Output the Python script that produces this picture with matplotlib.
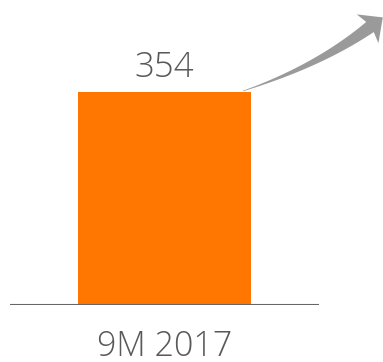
import numpy as np
import matplotlib
matplotlib.use("Agg")
import matplotlib.pyplot as plt
from matplotlib.patches import Polygon

categories = ["9M 2017"]
values = [354]

W, H = 383, 362
fig = plt.figure(figsize=(W / 100, H / 100), dpi=100)
plt.rcParams["font.family"] = ["Open Sans", "DejaVu Sans"]

# axes spans the baseline horizontally and from the baseline up to the top edge
ax = fig.add_axes([10 / W, 57 / H, 309 / W, 305 / H])
x = np.arange(len(categories))
bars = ax.bar(x, values, width=0.557, color="#FF7700", zorder=2)
ax.set_xlim(-0.5, 0.5)
ax.set_ylim(0, 507)
ax.axis("off")
ax.axhline(0, color="#666666", lw=1.5, zorder=3)

for xi, v in zip(x, values):
    ax.annotate(f"{v}", (xi, v), xytext=(0, 10.8), textcoords="offset points",
                ha="center", va="baseline", fontsize=25, color="#595959",
                fontweight="light")
for xi, c in zip(x, categories):
    ax.annotate(c, (xi, 0), xytext=(0, -36.7), textcoords="offset points",
                ha="center", va="baseline", fontsize=24.5, color="#595959",
                fontweight="light")

# curved, tapering growth arrow leaving the top-right corner of the bar
def px(p):
    return np.array([p[0], H - p[1]])

P0, P1, P2 = px((243, 91)), px((318, 66)), px((370, 27))
t = np.linspace(0, 1, 80)[:, None]
curve = (1 - t) ** 2 * P0 + 2 * (1 - t) * t * P1 + t ** 2 * P2
deriv = 2 * (1 - t) * (P1 - P0) + 2 * t * (P2 - P1)
tang = deriv / np.linalg.norm(deriv, axis=1, keepdims=True)
norm = np.column_stack([-tang[:, 1], tang[:, 0]])
half = 0.3 + 6.0 * t ** 1.2
upper = curve + norm * half
lower = curve - norm * half
d, n = tang[-1], norm[-1]
tip = P2 + d * 16
b1 = P2 + n * 18 - d * 3
b2 = P2 - n * 18 - d * 3
shape = np.vstack([upper, b1, tip, b2, lower[::-1]])
fig.patches.append(Polygon(shape, closed=True, transform=None,
                           facecolor="#9A9A9A", edgecolor="none", zorder=5))

fig.savefig("out.png", dpi=100)
